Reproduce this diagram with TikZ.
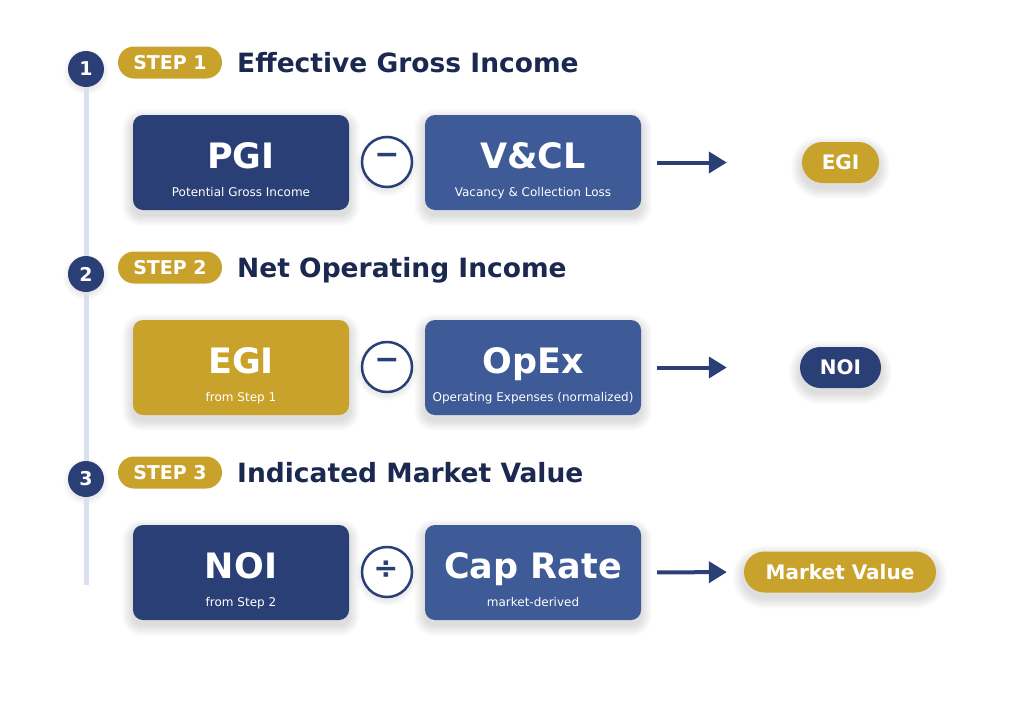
\documentclass[tikz,border=0pt]{standalone}
\usepackage{fontspec}
\setmainfont{DejaVu Sans}
\usetikzlibrary{arrows.meta,calc}
\pgfdeclarelayer{background}
\pgfdeclarelayer{rail}
\pgfsetlayers{background,rail,main}
\definecolor{navy}{HTML}{2B3F77}
\definecolor{blueb}{HTML}{3E5A97}
\definecolor{gold}{HTML}{C9A22B}
\definecolor{titlecol}{HTML}{1B2850}
\definecolor{railcol}{HTML}{DAE0ED}
\tikzset{
  card/.style={rounded corners=10pt, minimum width=216pt, minimum height=95pt, inner sep=0pt},
  cardtitle/.style={text=white, font=\fontsize{35}{40}\selectfont\bfseries, anchor=base, inner sep=0pt},
  cardsub/.style={text=white, font=\fontsize{12}{14}\selectfont, anchor=base, inner sep=0pt},
  opc/.style={circle, draw=navy, line width=2.5pt, fill=white, minimum size=50pt, inner sep=0pt},
  opsym/.style={text=navy, font=\fontsize{30}{30}\selectfont\bfseries, inner sep=0pt},
  stepnum/.style={circle, fill=navy, minimum size=36pt, inner sep=0pt, text=white, font=\fontsize{19}{19}\selectfont\bfseries},
  steppill/.style={rounded corners=16pt, fill=gold, minimum width=104pt, minimum height=32pt, inner sep=0pt, text=white, font=\fontsize{19}{20}\selectfont\bfseries},
  steptitle/.style={anchor=base west, text=titlecol, font=\fontsize{26.5}{30}\selectfont\bfseries, inner sep=0pt},
  respill/.style={minimum height=41pt, rounded corners=20.5pt, text=white, font=\fontsize{20}{22}\selectfont\bfseries, inner sep=0pt},
  flow/.style={-{Triangle[length=18pt,width=21pt]}, line width=4pt, draw=navy},
  shadowlayer/.style={black, opacity=0.012},
}
% soft shadow for a rounded rectangle node: #1 name, #2 corner radius (pt)
\newcommand\boxshadow[2]{%
  \begin{pgfonlayer}{background}
  \foreach \k in {1,...,11} {
    \pgfmathsetmacro\rr{#2+\k}
    \fill[shadowlayer, rounded corners=\rr pt]
      ($(#1.north west)+(-\k,-\k+5)$) rectangle ($(#1.south east)+(\k,\k+5)$);
  }
  \end{pgfonlayer}}
% soft shadow for a circle node: #1 name, #2 radius (pt)
\newcommand\circshadow[2]{%
  \begin{pgfonlayer}{background}
  \foreach \k in {1,...,7} {
    \pgfmathsetmacro\rr{#2+\k}
    \fill[shadowlayer] ($(#1.center)+(0,3)$) circle[radius=\rr pt];
  }
  \end{pgfonlayer}}
\begin{document}
\begin{tikzpicture}[x=1pt,y=-1pt]
\begin{pgfonlayer}{background}
\useasboundingbox[fill=white] (0,0) rectangle (1024,723);
\end{pgfonlayer}
% rail and step numbers
\coordinate (railend) at (86,585);
\node[stepnum] (n1) at (86,69) {1};
\node[stepnum] (n2) at (86,274) {2};
\node[stepnum] (n3) at (86,479) {3};
\begin{pgfonlayer}{rail}
\draw[railcol, line width=5pt] (n1.center) -- (railend);
\end{pgfonlayer}
\circshadow{n1}{16}\circshadow{n2}{16}\circshadow{n3}{16}

% step headers
\node[steppill] (s1) at (170,62.5) {STEP 1};
\node[steptitle] (t1) at (237,72) {Effective Gross Income};
\node[steppill] (s2) at (170,267.5) {STEP 2};
\node[steptitle] (t2) at (237,277) {Net Operating Income};
\node[steppill] (s3) at (170,472.5) {STEP 3};
\node[steptitle] (t3) at (237,482) {Indicated Market Value};

% row 1
\node[card, fill=navy] (pgi) at (241,162.5) {};
\node[cardtitle] (pgit) at (241,168) {PGI};
\node[cardsub] (pgis) at (241,196.5) {Potential Gross Income};
\node[opc] (op1) at (387,162) {};
\node[opsym] (op1s) at (387,158.5) {−};
\node[card, fill=blueb] (vcl) at (533,162.5) {};
\node[cardtitle] (vclt) at (533,168) {V\&CL};
\node[cardsub] (vcls) at (533,196.5) {Vacancy \& Collection Loss};
\node[respill, fill=gold, minimum width=77pt] (egi) at (840.5,162.5) {EGI};
\draw[flow, shorten <=16pt, shorten >=75pt] (vcl.east) -- (egi.west);
\boxshadow{pgi}{10}\boxshadow{vcl}{10}\circshadow{op1}{24}\boxshadow{egi}{20}

% row 2
\node[card, fill=gold] (egi2) at (241,367.5) {};
\node[cardtitle] (egi2t) at (241,373) {EGI};
\node[cardsub] (egi2s) at (241,401.5) {from Step 1};
\node[opc] (op2) at (387,367) {};
\node[opsym] (op2s) at (387,363.5) {−};
\node[card, fill=blueb] (opex) at (533,367.5) {};
\node[cardtitle] (opext) at (533,373) {OpEx};
\node[cardsub] (opexs) at (533,401.5) {Operating Expenses (normalized)};
\node[respill, fill=navy, minimum width=81pt] (noi) at (840.5,367.5) {NOI};
\draw[flow, shorten <=16pt, shorten >=73pt] (opex.east) -- (noi.west);
\boxshadow{egi2}{10}\boxshadow{opex}{10}\circshadow{op2}{24}\boxshadow{noi}{20}

% row 3
\node[card, fill=navy] (noi3) at (241,572.5) {};
\node[cardtitle] (noi3t) at (241,578) {NOI};
\node[cardsub] (noi3s) at (241,606.5) {from Step 2};
\node[opc] (op3) at (387,572) {};
\node[opsym] (op3s) at (386,570) {÷};
\node[card, fill=blueb] (cap) at (533,572.5) {};
\node[cardtitle] (capt) at (533,578) {Cap Rate};
\node[cardsub] (caps) at (533,606.5) {market-derived};
\node[respill, fill=gold, minimum width=192pt] (mv) at (840,572) {Market Value};
\draw[flow, shorten <=16pt, shorten >=17pt] (cap.east) -- (mv.west);
\boxshadow{noi3}{10}\boxshadow{cap}{10}\circshadow{op3}{24}\boxshadow{mv}{20}
\end{tikzpicture}
\end{document}
